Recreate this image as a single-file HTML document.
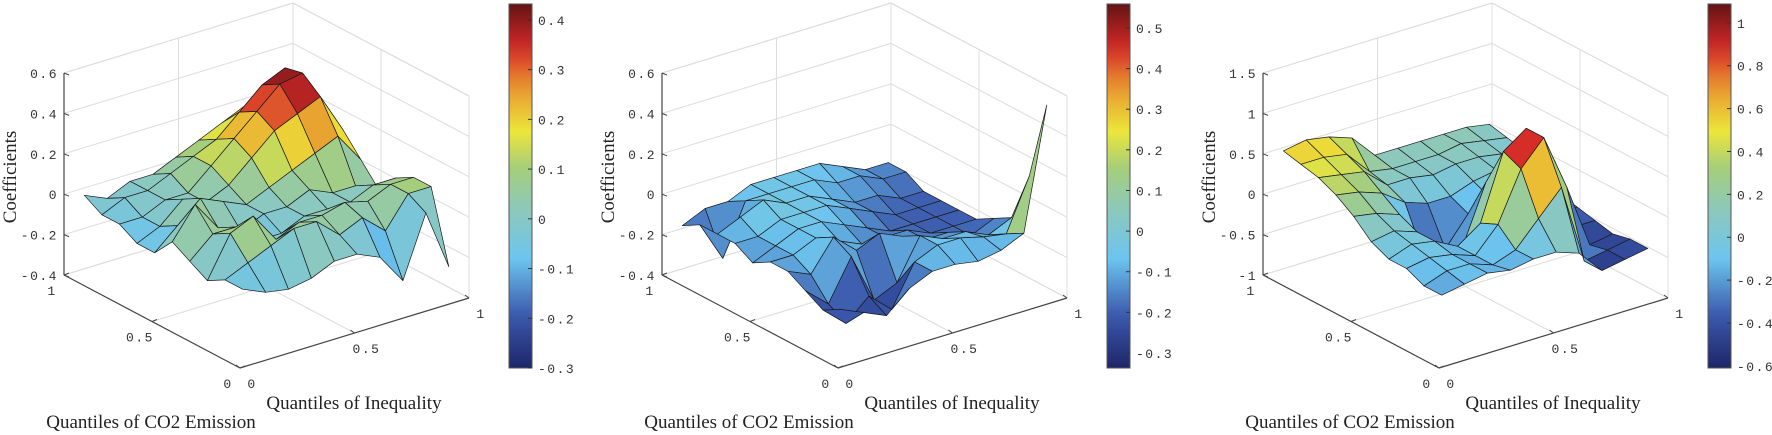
<!DOCTYPE html>
<html><head><meta charset="utf-8">
<style>
html,body{margin:0;padding:0;background:#fff;}
svg{display:block;}
.tk{font-family:"Liberation Mono",monospace;font-size:13px;fill:#333;letter-spacing:1.5px;}
.ttl{font-family:"Liberation Serif",serif;font-size:19px;fill:#222;}
</style></head>
<body>
<svg id="fig" width="1772" height="435" viewBox="0 0 1772 435" xmlns="http://www.w3.org/2000/svg"></svg>
<script>
// grid quantiles (rows = CO2 quantile, cols = inequality quantile)
const cQuant = [0.05,0.15,0.25,0.35,0.45,0.55,0.65,0.75,0.85,0.95];
const qQuant = [0.05,0.15,0.25,0.35,0.45,0.55,0.65,0.75,0.85,0.95];

const coef1 = [
 [-0.05,-0.1,-0.12,-0.1,-0.05,-0.05,-0.1,-0.25,0.05,-0.25],
 [-0.05,0.0,0.05,0.1,0.1,0.0,0.05,-0.05,0.1,0.1],
 [-0.1,0.1,0.15,0.0,0.05,0.05,0.08,0.05,0.1,0.1],
 [-0.05,0.05,0.05,-0.05,-0.05,0.0,0.0,0.0,0.05,0.05],
 [0.0,0.15,0.0,-0.05,0.0,0.0,0.05,0.0,0.0,-0.05],
 [-0.1,0.0,0.1,0.05,0.0,0.05,0.1,0.15,0.2,0.05],
 [-0.1,-0.05,0.05,0.0,0.05,0.15,0.25,0.3,0.35,0.15],
 [-0.05,-0.05,0.0,0.0,0.1,0.2,0.3,0.4,0.42,0.2],
 [-0.05,0.0,0.0,0.05,0.1,0.15,0.25,0.35,0.4,0.15],
 [0.0,-0.05,0.0,0.0,0.05,0.1,0.15,0.2,0.15,0.05]
];
const coef2 = [
 [-0.15,-0.2,-0.25,-0.15,-0.1,-0.1,-0.12,-0.1,-0.05,0.55],
 [-0.2,-0.3,-0.2,-0.3,-0.1,-0.05,-0.05,-0.08,-0.1,0.15],
 [-0.15,-0.25,-0.05,-0.3,-0.25,-0.05,-0.1,-0.1,-0.15,-0.1],
 [-0.1,-0.15,0.0,-0.1,-0.05,-0.1,-0.15,-0.15,-0.2,-0.15],
 [-0.1,-0.1,-0.05,-0.1,-0.15,-0.15,-0.15,-0.2,-0.2,-0.2],
 [-0.15,-0.1,-0.05,-0.05,-0.1,-0.15,-0.2,-0.2,-0.2,-0.2],
 [-0.1,-0.1,-0.05,-0.05,-0.05,-0.1,-0.15,-0.2,-0.2,-0.2],
 [-0.1,-0.05,0.0,-0.05,-0.05,-0.1,-0.15,-0.15,-0.2,-0.2],
 [-0.1,-0.3,-0.05,-0.05,-0.05,-0.05,-0.1,-0.1,-0.15,-0.15],
 [-0.15,-0.1,-0.1,-0.05,-0.05,-0.05,-0.05,-0.1,-0.15,-0.15]
];
const coef3 = [
 [-0.2,-0.15,-0.1,-0.15,-0.1,-0.1,-0.2,-0.5,-0.45,-0.4],
 [-0.2,-0.1,-0.1,-0.2,-0.1,0.2,0.5,-0.5,-0.45,-0.4],
 [-0.1,-0.05,-0.1,-0.2,0.1,0.7,1.0,0.3,-0.5,-0.45],
 [-0.1,0.0,-0.05,-0.2,0.0,0.8,1.0,0.5,-0.4,-0.4],
 [0.0,0.05,-0.05,-0.45,-0.4,0.3,0.5,0.1,-0.3,-0.35],
 [0.2,0.15,0.05,-0.5,-0.55,-0.2,-0.1,0.0,-0.2,-0.3],
 [0.35,0.3,0.2,0.0,-0.1,-0.1,0.0,0.05,0.0,-0.1],
 [0.45,0.4,0.35,0.1,0.1,0.05,0.1,0.1,0.05,0.0],
 [0.5,0.5,0.45,0.15,0.1,0.1,0.1,0.15,0.1,0.05],
 [0.55,0.6,0.55,0.45,0.15,0.15,0.15,0.15,0.15,0.1]
];
const zTicks12 = [-0.4,-0.2,0,0.2,0.4,0.6];
const zTicks3 = [-1,-0.5,0,0.5,1,1.5];
const cbTicks1 = [-0.3,-0.2,-0.1,0,0.1,0.2,0.3,0.4];
const cbTicks2 = [-0.3,-0.2,-0.1,0,0.1,0.2,0.3,0.4,0.5];
const cbTicks3 = [-0.6,-0.4,-0.2,0,0.2,0.4,0.6,0.8,1];
const xyTicks = [0,0.5,1];

const NS = "http://www.w3.org/2000/svg";
const svg = document.getElementById('fig');
function mk(tag, attrs, parent){
  const e = document.createElementNS(NS, tag);
  for (const k in attrs) e.setAttribute(k, attrs[k]);
  (parent||svg).appendChild(e); return e;
}
const stops = [[0,[30,38,105]],[0.14,[58,86,170]],[0.3,[108,196,238]],[0.43,[140,200,190]],[0.55,[166,206,122]],[0.65,[236,230,58]],[0.78,[232,144,47]],[0.88,[212,40,40]],[1,[100,20,20]]];
function cmap(t){
  t=Math.max(0,Math.min(1,t));
  for(let i=1;i<stops.length;i++){ if(t<=stops[i][0]){ const a=stops[i-1],b=stops[i]; const f=(t-a[0])/(b[0]-a[0]);
    const c=a[1].map((v,k)=>Math.round(v+(b[1][k]-v)*f)); return `rgb(${c[0]},${c[1]},${c[2]})`; } }
  return 'rgb(100,20,20)';
}
function fmt(v){ return (Math.round(v*10)/10).toString(); }

function panel(idx, ox, data, zmin, zmax, zTicks, vmin, vmax, cbTicks){
  const g = mk('g', {});
  
  
  const H = 202;
  const P = (c,q,z)=>[ox+240-176*c+229*q, 368-93*c-70*q-(z-zmin)/(zmax-zmin)*H];
  const line=(a,b,col,w,name)=>{ const l=mk('line',{x1:a[0],y1:a[1],x2:b[0],y2:b[1],stroke:col,'stroke-width':w},g);
      return l; };
  const grid='#dcdcdc';
  line(P(1,1,zmin),P(1,1,zmax),grid,1,'back-edge');
  line(P(0,1,zmin),P(0,1,zmax),grid,1,'right-edge');
  line(P(1,0,zmax),P(1,1,zmax),grid,1,'top-edge');
  line(P(1,1,zmax),P(0,1,zmax),grid,1,'top-edge');
  line(P(1,1,zmin),P(0,1,zmin),grid,1,'floor-edge');
  line(P(1,0,zmin),P(1,1,zmin),grid,1,'floor-edge');
  zTicks.forEach(z=>{ line(P(1,0,z),P(1,1,z),grid,1,'z-gridline'); line(P(1,1,z),P(0,1,z),grid,1,'z-gridline'); });
  line(P(1,0.5,zmin),P(1,0.5,zmax),grid,1,'wall-gridline');
  line(P(0.5,1,zmin),P(0.5,1,zmax),grid,1,'wall-gridline');
  line(P(0.5,0,zmin),P(0.5,1,zmin),grid,1,'floor-gridline');
  line(P(0,0.5,zmin),P(1,0.5,zmin),grid,1,'floor-gridline');
  const ax='#444';
  line(P(1,0,zmin),P(1,0,zmax),ax,1.2,'z-axis');
  line(P(1,0,zmin),P(0,0,zmin),ax,1.2,'co2-axis');
  line(P(0,0,zmin),P(0,1,zmin),ax,1.2,'inequality-axis');
  zTicks.forEach(z=>{ const p=P(1,0,z);
    line(p,[p[0]+5,p[1]+2],ax,1,'z-tick');
    const t=mk('text',{x:p[0]-6,y:p[1]+5,'text-anchor':'end',class:'tk'},g); t.textContent=fmt(z);
      });
  xyTicks.forEach(v=>{ const p=P(v,0,zmin);
    line(p,[p[0]+5,p[1]-2],ax,1,'co2-tick');
    const t=mk('text',{x:p[0]-12,y:p[1]+20,'text-anchor':'middle',class:'tk'},g); t.textContent=fmt(v);
     
    const p2=P(0,v,zmin);
    line(p2,[p2[0]-4,p2[1]-3],ax,1,'inequality-tick');
    const t2=mk('text',{x:p2[0]+12,y:p2[1]+20,'text-anchor':'middle',class:'tk'},g); t2.textContent=fmt(v);
      });
  const faces=[];
  for(let i=0;i<cQuant.length-1;i++) for(let j=0;j<qQuant.length-1;j++) faces.push([i,j]);
  faces.sort((a,b)=>(b[0]+b[1])-(a[0]+a[1]));
  faces.forEach(([i,j])=>{
    const pts=[P(cQuant[i],qQuant[j],data[i][j]),P(cQuant[i+1],qQuant[j],data[i+1][j]),P(cQuant[i+1],qQuant[j+1],data[i+1][j+1]),P(cQuant[i],qQuant[j+1],data[i][j+1])];
    const m=(data[i][j]+data[i+1][j]+data[i+1][j+1]+data[i][j+1])/4;
    const f=mk('polygon',{points:pts.map(p=>p[0].toFixed(1)+','+p[1].toFixed(1)).join(' '),fill:cmap((m-vmin)/(vmax-vmin)),stroke:'#1a1a1a','stroke-width':0.7,'stroke-linejoin':'round'},g);
    
    
  });
  const zt=mk('text',{x:0,y:0,'text-anchor':'middle',class:'ttl',transform:`translate(${ox+16},177) rotate(-90)`},g);
  zt.textContent='Coefficients';  
  const it=mk('text',{x:ox+354,y:409,'text-anchor':'middle',class:'ttl'},g);
  it.textContent='Quantiles of Inequality';  
  const ct=mk('text',{x:ox+151,y:428,'text-anchor':'middle',class:'ttl'},g);
  ct.textContent='Quantiles of CO2 Emission';  
  const cx=ox+509, cw=23, top=4, bot=368;
  const gid='grad'+idx;
  const defs=mk('defs',{},g); const lg=mk('linearGradient',{id:gid,x1:0,y1:1,x2:0,y2:0},defs);
  for(let k=0;k<=20;k++){ mk('stop',{offset:(k/20),'stop-color':cmap(k/20)},lg); }
  const cb=mk('rect',{x:cx,y:top,width:cw,height:bot-top,fill:`url(#${gid})`,stroke:'#555','stroke-width':1},g);
   
  cbTicks.forEach(v=>{ const y=bot-(v-vmin)/(vmax-vmin)*(bot-top);
    line([cx+cw-4,y],[cx+cw,y],'#333',1,'colorbar-tick');
    const t=mk('text',{x:cx+cw+6,y:y+5,class:'tk'},g); t.textContent=fmt(v);
      });
}
panel(0,0,coef1,-0.4,0.6,zTicks12,-0.3,0.432,cbTicks1);
panel(1,598,coef2,-0.4,0.6,zTicks12,-0.337,0.559,cbTicks2);
panel(2,1199,coef3,-1,1.5,zTicks3,-0.61,1.088,cbTicks3);
</script>
</body></html>
